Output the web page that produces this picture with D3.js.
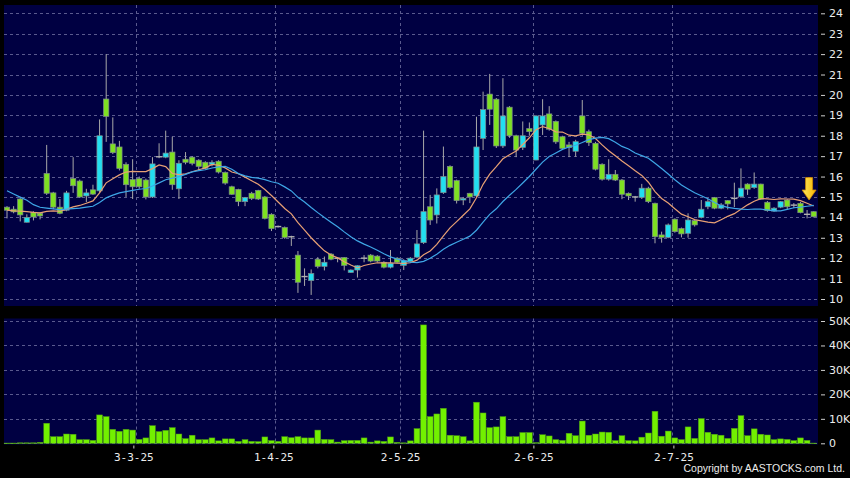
<!DOCTYPE html>
<html><head><meta charset="utf-8">
<script src="https://cdn.jsdelivr.net/npm/d3@7/dist/d3.min.js"></script>
<style>html,body{margin:0;padding:0;background:#000;} svg{display:block;}</style>
</head><body>
<svg id="chart" width="850" height="478"></svg>
<script>
// ---------- DATA ----------
const opens = [14.5,14.4,14.9,13.76,14.25,14.2,16.15,15.2,14.5,14.35,15.9,15.78,15.05,15.35,15.3,19.8,17.6,17.45,16.6,15.85,
15.9,15.83,15.0,16.97,16.95,17.2,15.4,16.85,16.95,16.8,16.7,16.6,16.75,16.2,15.5,15.37,14.77,15.18,15.32,15.0,
14.15,13.55,13.5,13.05,12.15,11.1,10.9,11.95,11.6,12.2,12.0,12.03,11.3,11.42,12.0,12.15,12.1,11.8,11.56,12.0,
11.65,11.83,12.05,12.76,14.52,14.12,15.21,16.5,15.8,14.85,15.18,15.05,17.87,20.04,19.79,17.5,19.4,18.0,17.43,18.35,
16.81,18.53,19.07,18.7,17.95,17.55,17.24,18.97,18.2,17.63,16.6,15.87,16.11,15.83,15.18,15.0,14.98,15.43,14.69,13.14,
13.02,13.91,13.45,13.22,13.84,14.0,14.52,14.97,14.45,14.82,14.93,15.01,15.63,15.46,15.63,14.74,14.31,14.5,14.85,14.6,
14.69,14.15,14.28];
const highs = [14.55,14.55,15.0,14.15,14.3,14.25,17.55,15.25,14.9,15.3,16.95,15.85,15.4,15.6,18.8,22.0,18.9,17.75,16.7,16.85,
16.0,15.9,16.95,17.63,18.25,17.95,16.8,17.2,17.0,16.85,16.75,16.8,16.8,16.25,15.55,15.4,15.0,15.25,15.35,15.05,
14.2,13.6,13.55,13.1,12.35,11.5,11.45,12.05,12.08,12.25,12.05,12.05,11.45,11.65,12.15,12.2,12.15,11.85,12.4,12.05,
11.95,12.05,13.38,18.25,15.1,15.42,17.47,16.55,15.85,15.0,15.2,18.93,20.16,21.03,19.85,20.82,19.45,18.05,18.7,18.65,
19.0,19.79,19.45,18.75,18.0,17.7,17.8,19.75,18.3,17.7,16.65,16.85,16.32,15.88,15.22,15.05,15.64,15.5,14.72,13.3,
13.7,13.95,13.5,14.2,13.88,14.85,14.9,15.0,14.7,14.85,15.7,16.4,15.67,16.2,15.65,14.8,14.5,14.8,14.9,14.7,
14.75,14.36,14.3];
const lows = [13.95,14.2,13.8,13.75,13.85,13.9,15.1,14.4,14.15,14.3,15.2,14.95,14.75,15.1,15.2,17.7,17.1,16.3,15.0,14.9,
15.4,14.88,14.95,16.9,16.9,15.35,14.9,16.6,16.55,16.3,16.35,16.5,16.15,15.6,15.1,14.55,14.55,14.85,14.85,13.9,
13.33,13.5,12.95,12.6,10.3,10.64,10.2,11.5,11.4,11.9,11.8,11.4,11.28,11.05,11.8,11.8,11.8,11.5,11.5,11.75,
11.42,11.8,12.0,12.7,13.63,13.7,15.15,15.4,14.68,14.6,14.7,15.0,17.3,18.53,17.4,17.4,17.9,16.95,17.3,18.0,
16.8,18.04,18.25,17.6,17.3,16.95,16.97,18.0,17.5,16.3,15.8,15.8,15.78,14.89,14.85,14.77,14.9,14.7,12.73,12.76,
12.98,13.25,13.02,13.0,13.55,13.95,14.4,14.4,14.4,14.39,14.5,14.95,15.1,15.4,14.85,14.28,14.28,14.45,14.4,14.45,
14.2,13.95,14.0];
const closes = [14.35,14.27,14.12,14.0,14.02,14.07,15.18,14.5,14.2,15.2,15.55,15.0,15.2,15.14,18.0,18.95,17.17,16.4,15.6,15.5,
15.5,15.0,16.62,16.97,17.15,15.6,16.65,16.7,16.65,16.5,16.4,16.7,16.22,15.68,15.13,14.77,14.97,14.93,14.9,13.95,
13.45,13.55,13.02,13.05,10.82,11.1,11.25,11.6,11.8,11.95,12.0,11.65,11.42,11.63,12.0,11.86,11.86,11.56,11.75,11.8,
11.88,12.0,12.7,14.28,13.87,15.1,16.0,15.47,14.82,14.93,15.0,17.45,19.28,19.3,17.5,18.97,18.0,17.3,18.0,18.2,
18.97,18.97,18.32,17.7,17.38,17.42,17.71,18.12,17.66,16.36,15.87,16.11,15.83,15.13,15.05,15.0,15.43,14.77,13.05,13.02,
13.63,13.3,13.19,13.87,13.63,14.4,14.77,14.45,14.61,14.66,14.93,15.43,15.38,15.63,14.89,14.33,14.45,14.77,14.52,14.6,
14.23,14.15,14.03];
const volumes = [100,100,200,200,200,400,8200,2700,2700,3800,3700,1500,1500,1200,11600,10900,5700,4900,5700,5400,
1600,2200,7200,4800,5300,6400,3800,1900,3300,1500,1500,2200,1000,1800,1800,800,1500,800,700,2600,
1100,800,2700,2300,2700,2200,2200,5400,1600,1500,500,1100,1200,1200,2200,500,1000,800,2600,400,
200,1000,6000,48400,10900,12000,14300,3300,3100,2700,1000,16800,12400,6400,6700,10900,2700,2700,4400,4400,
300,3500,3000,1500,1200,4100,3100,9100,3300,3800,4600,4500,1100,3100,1100,1000,2500,4200,13100,2900,
5000,2200,1500,6700,2000,10100,4500,3700,3300,2000,6100,11300,3100,5900,3700,3400,1500,1800,1600,1100,
2200,1200,100];
// closes before the first visible session (estimated from the moving-average lines)
const priorCloses = [17.5,17.2,17.0,18.4,16.6,16.0,15.2,15.0,14.8,14.9,14.6,14.3,14.2,14.4,14.3,14.5,14.2,14.4,14.3];
const dateTickIndex = [20,41,60,80,101];
const dateTickLabels = ["3-3-25","1-4-25","2-5-25","2-6-25","2-7-25"];
const priceTicks = [10,11,12,13,14,15,16,17,18,19,20,21,22,23,24];
const volumeTicks = [0,10000,20000,30000,40000,50000];
const maPeriods = [10,20];

// ---------- LAYOUT ----------
const W = 850, H = 478;
const P = {left:4, right:818, top:5, bottom:306};     // price panel
const V = {left:4, right:818, top:318.5, bottom:444.5}; // volume panel
const COL = {bg:"#000", panel:"#000042", grid:"#5a5a8e", text:"#ececec",
  up:"#22def0", down:"#7ee022", candleStroke:"#7d8a8c", wick:"#a8a8a8", doji:"#b0b0b0",
  vol:"#72f000", volStroke:"#4d9a16", ma10:"#e8a074", ma20:"#3ea6e6"};

const svg = d3.select("#chart");
svg.append("rect").attr("width",W).attr("height",H).attr("fill",COL.bg);

const idx = d3.range(closes.length);
const x = d3.scaleBand().domain(idx).range([3.7, 817]).padding(0);
const cx = i => x(i) + x.bandwidth()/2;
const xLabel = d3.scaleLinear().domain([0, closes.length-1]).range([0, 813.4]);
const y = d3.scaleLinear().domain([10,24]).range([299, 13.3]);
const yv = d3.scaleLinear().domain([0,50000]).range([443.3, 321]);

// panels
svg.append("rect").attr("x",P.left).attr("y",P.top).attr("width",P.right-P.left).attr("height",P.bottom-P.top).attr("fill",COL.panel);
svg.append("rect").attr("x",V.left).attr("y",V.top).attr("width",V.right-V.left).attr("height",V.bottom-V.top).attr("fill",COL.panel);

// grids
const grid = svg.append("g").attr("stroke",COL.grid).attr("stroke-width",1).attr("stroke-dasharray","3,3").attr("fill","none");
priceTicks.forEach(t=>{ const yy=Math.round(y(t))+0.5;
  grid.append("line").attr("x1",P.left).attr("x2",P.right).attr("y1",yy).attr("y2",yy); });
volumeTicks.forEach(t=>{ const yy=Math.round(yv(t))+0.5;
  grid.append("line").attr("x1",V.left).attr("x2",V.right).attr("y1",yy).attr("y2",yy); });
dateTickIndex.forEach(i=>{ const xx=Math.round(x(i))+0.5;
  grid.append("line").attr("x1",xx).attr("x2",xx).attr("y1",P.top).attr("y2",P.bottom);
  grid.append("line").attr("x1",xx).attr("x2",xx).attr("y1",V.top).attr("y2",V.bottom); });

// axes (right)
const yAxis = d3.axisRight(y).tickValues(priceTicks).tickSize(4).tickPadding(4).tickFormat(d3.format("d"));
const gy = svg.append("g").attr("transform",`translate(${P.right+3},0)`).call(yAxis);
const vAxis = d3.axisRight(yv).tickValues(volumeTicks).tickSize(4).tickPadding(4).tickFormat(d=> d===0?"0":(d/1000)+"K");
const gv = svg.append("g").attr("transform",`translate(${V.right+3},0)`).call(vAxis);
const xAxis = d3.axisBottom(xLabel).tickValues(dateTickIndex).tickSize(3).tickPadding(5).tickFormat((d,k)=>dateTickLabels[k]);
const gx = svg.append("g").attr("transform",`translate(0,${V.bottom+1})`).call(xAxis);
[gy,gv,gx].forEach(g=>{
  g.select(".domain").remove();
  g.selectAll(".tick line").attr("stroke","#cfcfcf");
  g.selectAll(".tick text").attr("fill",COL.text).attr("font-family","DejaVu Sans, sans-serif").attr("font-size","11px");
});
gx.selectAll(".tick text").attr("font-family","DejaVu Sans Mono, monospace").attr("font-size","11px");

// clip for price panel
svg.append("clipPath").attr("id","pclip").append("rect").attr("x",P.left).attr("y",P.top).attr("width",P.right-P.left).attr("height",P.bottom-P.top);

// volume bars
svg.append("g").selectAll("rect").data(idx).join("rect")
  .attr("x",i=>x(i)+0.4).attr("width",x.bandwidth()-0.8)
  .attr("y",i=>yv(volumes[i])).attr("height",i=>Math.max(0.6,yv(0)-yv(volumes[i])))
  .attr("fill",COL.vol).attr("stroke",COL.volStroke).attr("stroke-width",0.5);

// candles
const bw = x.bandwidth()*0.8;
const cg = svg.append("g").attr("clip-path","url(#pclip)");
cg.selectAll("line.wick").data(idx).join("line").attr("class","wick")
  .attr("x1",i=>cx(i)).attr("x2",i=>cx(i)).attr("y1",i=>y(highs[i])).attr("y2",i=>y(lows[i]))
  .attr("stroke",COL.wick).attr("stroke-width",1);
const bodies = idx.filter(i=>Math.abs(opens[i]-closes[i])>0.001);
const dojis = idx.filter(i=>Math.abs(opens[i]-closes[i])<=0.001);
cg.selectAll("rect.body").data(bodies).join("rect").attr("class","body")
  .attr("x",i=>cx(i)-bw/2).attr("width",bw)
  .attr("y",i=>y(Math.max(opens[i],closes[i]))).attr("height",i=>Math.abs(y(opens[i])-y(closes[i])))
  .attr("fill",i=>closes[i]>opens[i]?COL.up:COL.down).attr("stroke",COL.candleStroke).attr("stroke-width",0.7);
cg.selectAll("line.doji").data(dojis).join("line").attr("class","doji")
  .attr("x1",i=>cx(i)-bw/2-0.5).attr("x2",i=>cx(i)+bw/2+0.5).attr("y1",i=>y(closes[i])).attr("y2",i=>y(closes[i]))
  .attr("stroke",COL.doji).attr("stroke-width",1.4);

// moving averages
const full = priorCloses.concat(closes);
const off = priorCloses.length;
function sma(n){ return idx.map(i=> d3.mean(full.slice(i+off-n+1, i+off+1))); }
const line = d3.line().x((d,i)=>cx(i)).y(d=>y(d));
maPeriods.forEach((n,k)=>{
  cg.append("path").datum(sma(n)).attr("d",line).attr("fill","none")
    .attr("stroke",k===0?COL.ma10:COL.ma20).attr("stroke-width",1.2);
});

// last-session marker arrow
const last = closes.length-2;
const ax = cx(last)+2, at = y(15.95), ab = y(14.85);
const defs = svg.append("defs");
const gr = defs.append("linearGradient").attr("id","ag").attr("x1",0).attr("x2",1).attr("y1",0).attr("y2",0);
gr.append("stop").attr("offset","0").attr("stop-color","#ffe860");
gr.append("stop").attr("offset","1").attr("stop-color","#f5b400");
svg.append("path")
  .attr("d",`M${ax-3.5},${at} L${ax+3.5},${at} L${ax+3.5},${ab-10} L${ax+7},${ab-10} L${ax},${ab} L${ax-7},${ab-10} L${ax-3.5},${ab-10} Z`)
  .attr("fill","url(#ag)").attr("stroke","#d08a00").attr("stroke-width",0.8);

// copyright
svg.append("text").attr("x",845).attr("y",472).attr("text-anchor","end")
  .attr("fill",COL.text).attr("font-family","Liberation Sans, Arial, sans-serif").attr("font-size","10.5px")
  .text("Copyright by AASTOCKS.com Ltd.");
</script>
</body></html>
